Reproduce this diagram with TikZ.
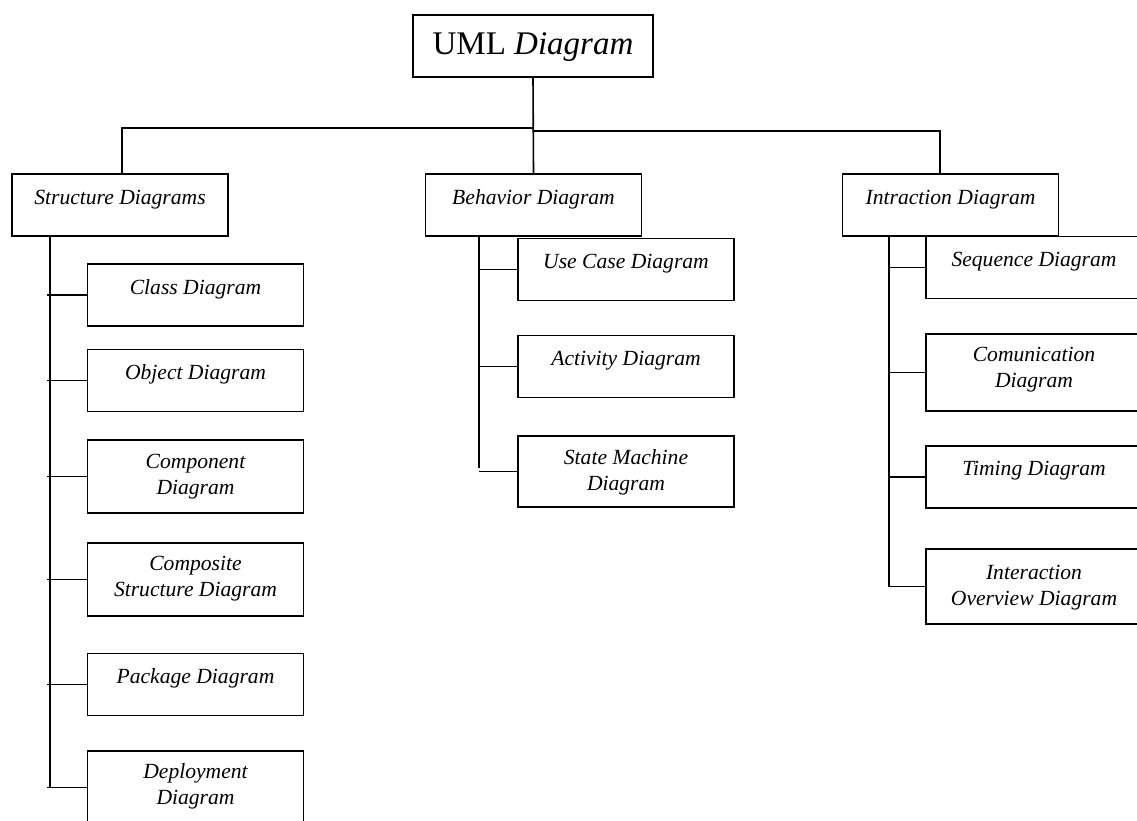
\documentclass[tikz,border=0pt]{standalone}
\usepackage{fontspec}
\setmainfont{Liberation Serif}
\usetikzlibrary{calc}
\begin{document}
\begin{tikzpicture}[x=0.75pt,y=-0.75pt,
  box/.style={draw, line width=1.4pt, minimum width=162pt, inner sep=0pt},
  hone/.style={minimum height=46.5pt},
  htwo/.style={minimum height=55pt},
  lbl/.style={font=\fontsize{16.2}{19.5}\selectfont\itshape, align=center, anchor=base, inner sep=0pt},
  conn/.style={line width=1.2pt}]
\useasboundingbox (0,0) rectangle (1137,820);
% top
\node[box, minimum width=180pt, minimum height=46.5pt] (uml) at (533,46) {};
\node[font=\fontsize{24.75}{29}\selectfont, anchor=base, inner sep=0pt] (umlt) at ($(uml.north)+(0,40)$) {UML \textit{Diagram}};
% level 1
\node[box, hone] (sd) at (120,205) {};
\node[lbl] (sdt) at ($(sd.north)+(0,31)$) {Structure Diagrams};
\node[box, hone] (bd) at (533.5,205) {};
\node[lbl] (bdt) at ($(bd.north)+(0,31)$) {Behavior Diagram};
\node[box, hone] (id) at (950.5,205) {};
\node[lbl] (idt) at ($(id.north)+(0,31)$) {Intraction Diagram};
% structure children
\node[box, hone] (cls) at (195.5,295) {};
\node[lbl] (clst) at ($(cls.north)+(0,31)$) {Class Diagram};
\node[box, hone] (obj) at (195.5,380.5) {};
\node[lbl] (objt) at ($(obj.north)+(0,31)$) {Object Diagram};
\node[box, htwo] (cmp) at (195.5,476.5) {};
\node[lbl] (cmpt) at ($(cmp.north)+(0,56)$) {Component\\Diagram};
\node[box, htwo] (cst) at (195.5,579.5) {};
\node[lbl] (cstt) at ($(cst.north)+(0,55)$) {Composite\\Structure Diagram};
\node[box, hone] (pkg) at (195.5,684.5) {};
\node[lbl] (pkgt) at ($(pkg.north)+(0,31)$) {Package Diagram};
\node[box, htwo] (dep) at (195.5,787.5) {};
\node[lbl] (dept) at ($(dep.north)+(0,55)$) {Deployment\\Diagram};
% behavior children
\node[box, hone] (uc) at (626,269.5) {};
\node[lbl] (uct) at ($(uc.north)+(0,31)$) {Use Case Diagram};
\node[box, minimum height=53.25pt] (sm) at (626,471.5) {};
\node[lbl] (smt) at ($(sm.north)+(0,55)$) {State Machine\\Diagram};
\node[box, hone] (act) at (626,366.5) {};
\node[lbl] (actt) at ($(act.north)+(0,31)$) {Activity Diagram};
% interaction children
\node[box, hone] (seq) at (1034,267.5) {};
\node[lbl] (seqt) at ($(seq.north)+(0,31)$) {Sequence Diagram};
\node[box, minimum height=57.75pt] (com) at (1034,372.5) {};
\node[lbl] (comt) at ($(com.north)+(0,54)$) {Comunication\\Diagram};
\node[box, hone] (tim) at (1034,477) {};
\node[lbl] (timt) at ($(tim.north)+(0,30)$) {Timing Diagram};
\node[box, minimum height=56.25pt] (iov) at (1034,586.5) {};
\node[lbl] (iovt) at ($(iov.north)+(0,57)$) {Interaction\\Overview Diagram};
% top connectors
\coordinate (jl) at (122,128);
\coordinate (jr) at (940,131);
\draw[conn] (uml.south) -- (bd.north);
\draw[conn] (jl |- sd.north) -- (jl) -- (uml.south |- jl);
\draw[conn] (uml.south |- jr) -- (jr) -- (jr |- id.north);
% structure tree
\coordinate (sx) at (50,0);
\draw[conn] (sd.south -| sx) -- (dep.west -| sx);
\foreach \n in {cls,obj,cmp,cst,pkg,dep}
  \draw[conn] ([xshift=-2]\n.west -| sx) -- (\n.west);
% behavior tree
\coordinate (bx) at (479,0);
\draw[conn] (bd.south -| bx) -- ([yshift=3]sm.west -| bx);
\foreach \n in {uc,act,sm}
  \draw[conn] (\n.west -| bx) -- (\n.west);
% interaction tree
\coordinate (ix) at (889,0);
\draw[conn] (id.south -| ix) -- (iov.west -| ix);
\foreach \n in {seq,com,tim,iov}
  \draw[conn] (\n.west -| ix) -- (\n.west);
\end{tikzpicture}
\end{document}
